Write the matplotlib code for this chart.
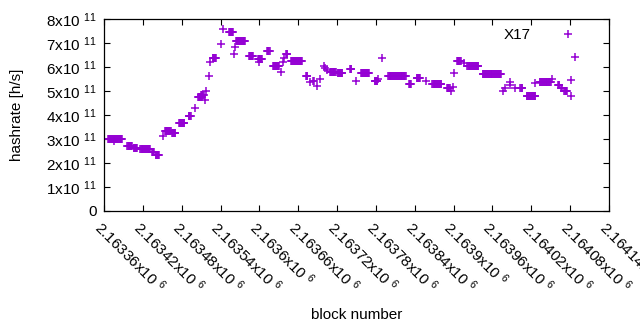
import numpy as np
import matplotlib
matplotlib.use("Agg")
import matplotlib.pyplot as plt
from matplotlib.ticker import FuncFormatter, MultipleLocator

# runs of X17 blocks: first block, last block, estimated hashrate (x1e11 h/s)
run_start = [2163366, 2163375, 2163396, 2163406, 2163416, 2163434, 2163440,
             2163451, 2163454, 2163465, 2163476, 2163491, 2163501, 2163505,
             2163510, 2163516, 2163518, 2163522, 2163524, 2163528, 2163541,
             2163544, 2163553, 2163561, 2163562, 2163564, 2163584, 2163598,
             2163599, 2163612, 2163621, 2163633, 2163636, 2163638, 2163641,
             2163649, 2163672, 2163678, 2163683, 2163689, 2163694, 2163700,
             2163701, 2163704, 2163709, 2163721, 2163740, 2163749, 2163757,
             2163778, 2163783, 2163789, 2163799, 2163831, 2163843, 2163857,
             2163867, 2163890, 2163896, 2163899, 2163901, 2163905, 2163916,
             2163921, 2163945, 2163976, 2163979, 2163987, 2163987, 2163995,
             2164003, 2164013, 2164026, 2164033, 2164052, 2164061, 2164066,
             2164071, 2164081, 2164082, 2164087]
run_end = [2163388, 2163375, 2163403, 2163411, 2163431, 2163437, 2163445,
           2163451, 2163463, 2163470, 2163484, 2163494, 2163501, 2163511,
           2163514, 2163516, 2163518, 2163522, 2163524, 2163533, 2163541,
           2163544, 2163559, 2163561, 2163562, 2163578, 2163590, 2163604,
           2163599, 2163616, 2163630, 2163633, 2163636, 2163638, 2163643,
           2163666, 2163674, 2163678, 2163684, 2163689, 2163694, 2163700,
           2163701, 2163704, 2163718, 2163728, 2163742, 2163749, 2163769,
           2163782, 2163783, 2163789, 2163826, 2163834, 2163848, 2163857,
           2163881, 2163894, 2163896, 2163899, 2163901, 2163911, 2163916,
           2163938, 2163973, 2163976, 2163979, 2163987, 2163987, 2163995,
           2164006, 2164026, 2164026, 2164050, 2164052, 2164063, 2164067,
           2164075, 2164081, 2164082, 2164087]
run_value = [3.00, 2.90, 2.70, 2.63, 2.57, 2.45, 2.35,
             3.12, 3.32, 3.26, 3.65, 3.96, 4.28, 4.76,
             4.85, 4.62, 5.00, 5.64, 6.22, 6.36, 6.94,
             7.57, 7.44, 6.53, 6.82, 7.07, 6.45, 6.33,
             6.22, 6.67, 6.04, 5.80, 6.20, 6.39, 6.55,
             6.25, 5.62, 5.39, 5.42, 5.20, 5.49, 6.05,
             5.95, 5.86, 5.78, 5.74, 5.90, 5.42, 5.76,
             5.43, 5.49, 6.36, 5.61, 5.28, 5.53, 5.42,
             5.29, 5.14, 5.00, 5.18, 5.74, 6.25, 6.15,
             6.04, 5.70, 5.01, 5.11, 5.36, 5.25, 5.11,
             5.14, 4.80, 5.35, 5.38, 5.49, 5.25, 5.11,
             5.01, 4.80, 5.46, 6.40]

x_ticks = np.arange(2163360, 2164141, 60)

plt.rcParams.update({
    "font.family": ["Liberation Sans", "DejaVu Sans"],
    "font.size": 11,
    "mathtext.fontset": "custom",
    "mathtext.rm": "Liberation Sans",
    "mathtext.it": "Liberation Sans",
    "mathtext.default": "regular",
})

blocks, rates = [], []
for s, e, v in zip(run_start, run_end, run_value):
    for b in range(s, e + 1):
        blocks.append(b)
        rates.append(v * 1e11)

fig = plt.figure(figsize=(6.4, 3.3), dpi=100)
ax = fig.add_axes([104 / 640, 1 - 211 / 330, 505 / 640, 192 / 330])

ax.plot(blocks, rates, "+", color="#9400D3", ms=5.4, mew=1.1,
        linestyle="none", label="X17")

ax.set_xlim(2163360, 2164140)
ax.set_ylim(0, 8e11)
ax.set_xticks(x_ticks)
ax.yaxis.set_major_locator(MultipleLocator(1e11))


def yfmt(v, pos):
    n = int(round(v / 1e11))
    return "0" if n == 0 else f"{n}x10 $^{{11}}$"


def xfmt(v, pos):
    return f"{v / 1e6:g}x10 $^{{6}}$"


ax.yaxis.set_major_formatter(FuncFormatter(yfmt))
ax.xaxis.set_major_formatter(FuncFormatter(xfmt))
ax.tick_params(direction="in", length=4, width=0.8, top=True, right=True,
               labelsize=11, pad=5)
for lbl in ax.get_xticklabels():
    lbl.set_rotation(-45)
    lbl.set_ha("left")
    lbl.set_va("top")
    lbl.set_rotation_mode("anchor")
for sp in ax.spines.values():
    sp.set_linewidth(0.9)

ax.set_ylabel("hashrate [h/s]", fontsize=11)
ax.yaxis.set_label_coords(-80 / 505, 0.5)
ax.set_xlabel("block number", fontsize=11)
ax.xaxis.set_label_coords(0.5, -97 / 192)

ax.legend(loc="upper right", bbox_to_anchor=(1 - 23 / 505, 1.0),
          frameon=False, markerfirst=False, handlelength=1.2,
          handletextpad=1.8, fontsize=11, borderaxespad=0.2)

fig.savefig("out.png", dpi=100)
